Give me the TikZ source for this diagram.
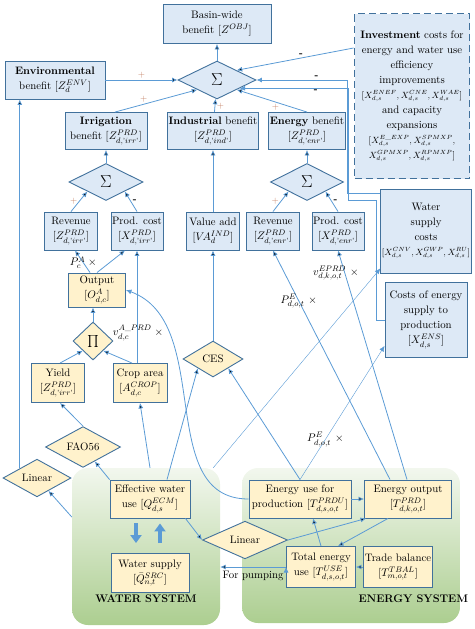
\documentclass[tikz,border=0pt]{standalone}
\usepackage{amsmath}
\usepackage{tikz}
\usetikzlibrary{positioning,shapes.geometric,arrows.meta,backgrounds}

\definecolor{boxline}{RGB}{65,113,156}
\definecolor{bluefill}{RGB}{221,233,246}
\definecolor{yellfill}{RGB}{255,242,204}
\definecolor{arrowblue}{RGB}{91,155,213}
\definecolor{plusred}{RGB}{196,128,100}
\definecolor{greentop}{RGB}{242,247,238}
\definecolor{greenbot}{RGB}{172,206,144}

\newcommand{\quo}[1]{\text{'}#1\text{'}}
\newcommand{\mathline}[1]{{\fontsize{9.2}{15}\selectfont #1}}

\begin{document}
\begin{tikzpicture}[on grid,
    every node/.style={font=\fontsize{10.8}{15}\selectfont},
    bluebox/.style={rectangle, draw=boxline, fill=bluefill, line width=0.9pt, align=center, inner sep=1pt},
    yellbox/.style={bluebox, fill=yellfill},
    investbox/.style={bluebox, line width=1.8pt, dash pattern=on 7pt off 4pt},
    bluesum/.style={diamond, draw=boxline, fill=bluefill, line width=0.9pt, inner sep=0pt, font=\LARGE},
    yellop/.style={bluesum, fill=yellfill, font=\fontsize{10.8}{15}\selectfont},
    sysarea/.style={rectangle, rounded corners=16pt, top color=greentop, bottom color=greenbot, draw=none},
    systitle/.style={font=\fontsize{11}{13}\bfseries},
    conn/.style={->, draw=arrowblue, line width=0.8pt},
    thinconn/.style={->, draw=arrowblue, line width=0.4pt},
    blockarrow/.style={-{Triangle[length=8pt,width=11pt]}, draw=arrowblue, line width=4pt},
    plus/.style={text=plusred, font=\small, inner sep=1.5pt},
    minus/.style={text=black, font=\bfseries, inner sep=1.5pt},
    >={Latex[length=5.5pt,width=5pt]}]
    \useasboundingbox (0pt,0pt) rectangle (474pt,-629pt);

    % objective and top sum
    \node[bluebox, minimum width=108pt, minimum height=39pt] (obj) at (217pt,-24pt) {Basin-wide\\benefit [$Z^{OBJ}$]};
    \node[bluesum, minimum width=78pt, minimum height=38pt] (sumtop) [below=56pt of obj] {$\Sigma$};
    \node[bluebox, minimum width=100pt, minimum height=38pt] (env) [left=162pt of sumtop] {\textbf{Environmental}\\benefit [$Z_{d}^{ENV}$]};
    \node[investbox, minimum width=115pt, minimum height=165pt] (invest) [below right=72pt and 195pt of obj]
        {\textbf{Investment} costs for\\energy and water use\\efficiency\\improvements\\\mathline{[$X^{ENEF}_{d,s},X^{CNE}_{d,s},X^{WAE}_{d,s}$]}\\and capacity\\expansions\\\mathline{[$X^{E\_EXP}_{d,s},X^{SPMXP}_{d,s}$,}\\\mathline{$X^{GPMXP}_{d,s},X^{RPMXP}_{d,s}$]}};

    % benefits
    \node[bluebox, minimum width=85pt, minimum height=37pt] (indb) [below left=51pt and 4pt of sumtop] {\textbf{Industrial} benefit\\{}[$Z^{PRD}_{d,\quo{ind}}$]};
    \node[bluebox, minimum width=82pt, minimum height=37pt] (irrb) [left=107pt of indb] {\textbf{Irrigation}\\benefit [$Z^{PRD}_{d,\quo{irr}}$]};
    \node[bluebox, minimum width=73pt, minimum height=37pt] (enrb) [right=94pt of indb] {\textbf{Energy} benefit\\{}[$Z^{PRD}_{d,\quo{enr}}$]};
    \node[bluesum, minimum width=74pt, minimum height=37pt] (sumirr) [below=51pt of irrb] {$\Sigma$};
    \node[bluesum, minimum width=73pt, minimum height=37pt] (sumenr) [below=51pt of enrb] {$\Sigma$};

    % revenues and costs
    \node[bluebox, minimum width=53pt, minimum height=38pt] (vaind) [below=100pt of indb] {Value add\\{}[$V\!A^{IND}_{d}$]};
    \node[bluebox, minimum width=53pt, minimum height=38pt] (revirr) [left=142pt of vaind] {Revenue\\{}[$Z^{PRD}_{d,\quo{irr}}$]};
    \node[bluebox, minimum width=52pt, minimum height=38pt] (costirr) [left=76pt of vaind] {Prod. cost\\{}[$X^{PRD}_{d,\quo{irr}}$]};
    \node[bluebox, minimum width=53pt, minimum height=38pt] (revenr) [right=60pt of vaind] {Revenue\\{}[$Z^{PRD}_{d,\quo{enr}}$]};
    \node[bluebox, minimum width=52pt, minimum height=38pt] (costenr) [right=125pt of vaind] {Prod. cost\\{}[$X^{PRD}_{d,\quo{enr}}$]};
    \node[bluebox, minimum width=82pt, minimum height=84pt] (wsc) [right=213pt of vaind] {Water\\supply\\costs\\{\fontsize{8.8}{15}\selectfont[$X^{CNV}_{d,s},X^{GWP}_{d,s},X^{RU}_{d,s}$]}};
    \node[bluebox, minimum width=82pt, minimum height=75pt] (ensc) [below=89pt of wsc] {Costs of energy\\supply to\\production\\{}[$X^{ENS}_{d,s}$]};

    % agriculture
    \node[yellbox, minimum width=57pt, minimum height=34pt] (output) [below right=59pt and 26pt of revirr] {Output\\{}[$O^{A}_{d,c}$]};
    \node[yellop, minimum width=40pt, minimum height=38pt, font=\large] (prod) [below left=51pt and 4pt of output] {$\prod$};
    \node (vaprd) [above right=8pt and 45pt of prod] {$v^{A\_PRD}_{d,c}$\hspace{3pt}$\times$};
    \node[yellbox, minimum width=53pt, minimum height=39pt] (yield) [below left=42pt and 35pt of prod] {Yield\\{}[$Z^{PRD}_{d,\quo{irr}}$]};
    \node[yellbox, minimum width=54pt, minimum height=39pt] (crop) [right=82pt of yield] {Crop area\\{}[$A^{CROP}_{d,c}$]};
    \node[yellop, minimum width=60pt, minimum height=36pt] (ces) [below=128pt of vaind] {CES};
    \node[yellop, minimum width=75pt, minimum height=35pt] (fao) [below right=64pt and 25pt of yield] {FAO56};
    \node[yellop, minimum width=68pt, minimum height=37pt] (linw) [below left=31pt and 46pt of fao] {Linear};

    % water and energy systems
    \node[yellbox, minimum width=80pt, minimum height=38pt] (effw) [below right=116pt and 10pt of crop] {Effective water\\use [$Q^{ECM}_{d,s}$]};
    \node[yellbox, minimum width=78pt, minimum height=39pt] (wsup) [below=74pt of effw] {Water supply\\{}[$\bar{Q}^{SRC}_{n,t}$]};
    \node[yellbox, minimum width=102pt, minimum height=38pt] (euse) [right=150pt of effw] {Energy use for\\production [$T^{PRDU}_{d,s,o,t}$]};
    \node[yellbox, minimum width=87pt, minimum height=38pt] (eout) [right=108pt of euse] {Energy output\\{}[$T^{PRD}_{d,k,o,t}$]};
    \node[yellop, minimum width=85pt, minimum height=36pt] (lin) [below left=41pt and 55pt of euse] {Linear};
    \node[yellbox, minimum width=69pt, minimum height=41pt] (tuse) [below right=68pt and 21pt of euse] {Total energy\\use [$T^{USE}_{d,s,o,t}$]};
    \node[yellbox, minimum width=69pt, minimum height=41pt] (tbal) [right=77pt of tuse] {Trade balance\\{}[$T^{TBAL}_{m,o,t}$]};
    \begin{scope}[on background layer]
        \node[sysarea, minimum width=148pt, minimum height=157pt] (watersys) [below left=47.5pt and 4pt of effw] {};
        \node[sysarea, minimum width=218pt, minimum height=155pt] (energysys) [below right=46.5pt and 51pt of euse] {};
    \end{scope}
    \node[systitle] (wtitle) [above=19pt of watersys.south] {WATER SYSTEM};
    \node[systitle] (etitle) [above right=17pt and 4pt of energysys.south] {ENERGY SYSTEM};
    \coordinate (tradeup) [below left=27pt and 4pt of eout.south east];

    \path[conn]
        (sumtop) edge (obj)
        (env) edge node[plus, above] {+} (sumtop)
        ([xshift=9pt]irrb.north) edge node[plus, above, pos=0.35] {+} (sumtop.south west)
        (indb) edge node[plus, right, pos=0.45] {+} (sumtop)
        (enrb.north) edge node[plus, below, pos=0.45] {+} (sumtop.south east)
        ([yshift=48pt]invest.west) edge node[minus, above, pos=0.45] {-} (sumtop.north east)
        (sumirr) edge (irrb)
        (revirr.north) edge node[plus, left] {+} (sumirr.south west)
        (costirr.north) edge node[minus, right] {-} (sumirr.south east)
        (vaind) edge (indb)
        (sumenr) edge (enrb)
        (revenr.north) edge node[plus, left] {+} (sumenr.south west)
        (costenr.north) edge node[minus, right] {-} (sumenr.south east)
        (ces) edge (vaind)
        ([xshift=-7pt]output.north) edge node[pos=0.45] {$P^{A}_{c}$\hspace{3pt}$\times$} ([xshift=4pt]revirr.south)
        (output.north) edge ([xshift=-12pt]costirr.south)
        (prod.north) edge (prod.north |- output.south)
        ([xshift=2pt]yield.north) edge (prod.south west)
        ([xshift=-8pt]crop.north) edge (prod.south east)
        ([xshift=-3pt]crop.north) edge (costirr.south)
        (fao.north) edge ([xshift=2pt]yield.south)
        (effw.north west) edge (fao)
        (effw.north |- watersys.north) edge (crop.south)
        ([xshift=17pt]effw.north) edge (ces.south west)
        (euse.north) edge (ces.south east)
        ([xshift=-18pt]eout.north) edge node[pos=0.78] {$P^{E}_{d,o,t}$\hspace{4pt}$\times$} (revenr.south)
        ([xshift=-1pt]eout.north) edge node[pos=0.9, xshift=-9pt] {$v^{EPRD}_{d,k,o,t}$\hspace{4pt}$\times$} (costenr.south)
        (euse.east) edge (eout.west)
        (tbal) edge (tuse)
        ([xshift=-20pt]eout.south) edge ([xshift=17pt]tuse.north)
        (tuse.north) edge ([xshift=13pt]euse.south)
        (lin.east) edge ([xshift=2pt]eout.south west)
        ([xshift=-5pt]effw.south east) edge (lin.west)
        ([yshift=29.5pt]watersys.west) edge (linw)
        (linw.north west) edge (linw.north west |- env.south)
        (tuse.west) edge node[below] {For pumping} (tuse.west -| watersys.east)
        ;
    \draw[conn] (euse.west) to[out=180, in=-20] (output.east);
    \draw[conn] ([yshift=38pt]wsc.west) -- ++(-33pt,0pt) |- node[minus, above, pos=0.67] {-} (sumtop.east);
    \draw[conn] (ensc.west) -- ++(-8pt,0pt) -- ++(0pt,120pt) -- ++(-28pt,0pt) |- node[minus, below, pos=0.65] {-} (sumtop.-20);
    \draw[thinconn] ([xshift=-7pt]watersys.north east) -- ([yshift=5pt]wsc.south west);
    \draw[thinconn] (euse.north) -- node[pos=0.3] {$P^{E}_{d,o,t}$\hspace{4pt}$\times$} ([yshift=12pt]ensc.south west);
    \draw[blockarrow, shorten <=5pt, shorten >=10pt] ([xshift=-14pt]effw.south) -- ([xshift=-14pt]wsup.north);
    \draw[blockarrow, shorten <=10pt, shorten >=5pt] ([xshift=10pt]wsup.north) -- ([xshift=10pt]effw.south);
    \draw[blockarrow] (tradeup) -- ++(0pt,18pt);
\end{tikzpicture}
\end{document}
